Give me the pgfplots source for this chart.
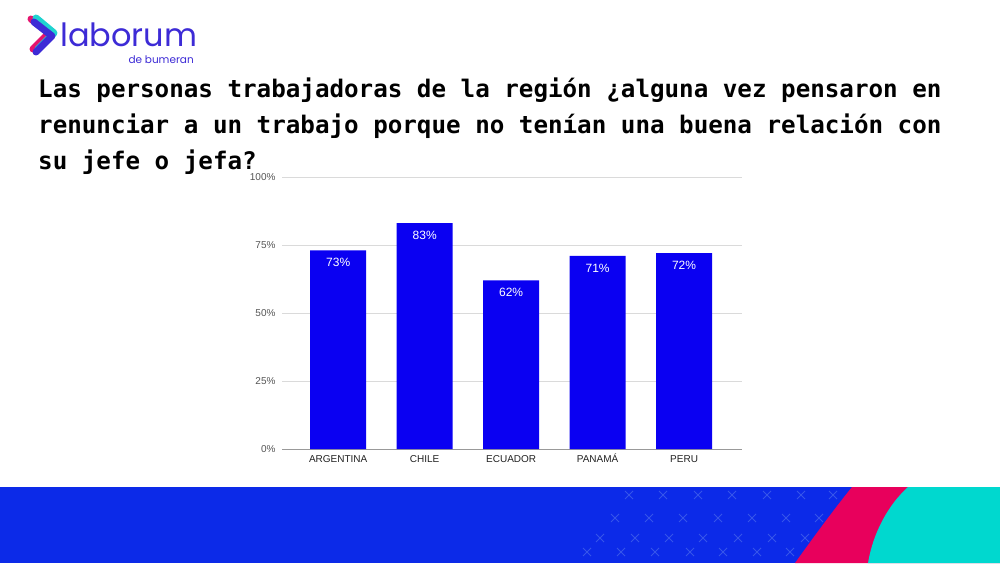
\documentclass[border=0pt]{standalone}
\usepackage{fontspec}
\setmainfont{Liberation Sans}
\newfontfamily\titlefont{DejaVu Sans Mono}
\newfontfamily\logofont{Poppins}
\usepackage{pgfplots}
\pgfplotsset{compat=1.18}
\definecolor{barblue}{HTML}{0A00F2}
\definecolor{bandblue}{HTML}{0C2AE8}
\definecolor{bandpink}{HTML}{E8005C}
\definecolor{bandcyan}{HTML}{00D8CF}
\definecolor{xmark}{HTML}{3655EA}
\definecolor{logoblue}{HTML}{3D2BD6}
\definecolor{logopink}{HTML}{E5146E}
\definecolor{logocyan}{HTML}{1FD3D0}
\definecolor{gridgray}{HTML}{DADADA}
\definecolor{ticktext}{HTML}{555555}
\definecolor{cattext}{HTML}{222222}
\begin{document}
\begin{tikzpicture}[x=1pt,y=1pt]
\path[use as bounding box] (0,0) rectangle (1000,563);
\fill[white] (0,0) rectangle (1000,563);
% bottom band
\fill[bandblue] (0,0) rectangle (1000,76);
\fill[bandpink] (852,76) -- (1000,76) -- (1000,0) -- (795,0) .. controls (815,28) and (835,55) .. (852,76) -- cycle;
\fill[bandcyan] (908,76) -- (1000,76) -- (1000,0) -- (868,0) .. controls (873,30) and (888,58) .. (908,76) -- cycle;
\foreach \y/\xs in {68/{629,663,698,732,767,801,833},45/{615,649,683,718,752,786,819},25/{600,635,669,703,738,772,805},11/{587,621,655,690,723,757,790}}{
  \foreach \x in \xs {
    \draw[xmark, line width=1pt] (\x-4,\y-4) -- (\x+4,\y+4) (\x-4,\y+4) -- (\x+4,\y-4);
  }
}
% logo
\draw[logopink, line width=7pt, line cap=round, line join=round] (31,544) -- (49,530) -- (33,514);
\draw[logocyan, line width=7pt, line cap=round, line join=round] (36,545) -- (54,530) -- (38,514);
\draw[logoblue, line width=7pt, line cap=round, line join=round] (34,541) -- (52,527) -- (36,511);
\node[anchor=base west, inner sep=0, text=logoblue, font=\logofont\fontsize{32}{36}\selectfont] at (60,516) {laborum};
\node[anchor=base east, inner sep=0, text=logoblue, font=\logofont\fontsize{10.5}{12}\selectfont] at (194,499) {de bumeran};
% title
\node[anchor=base west, inner sep=0, font=\titlefont\bfseries\fontsize{24.2}{30}\selectfont] at (38,465) {Las personas trabajadoras de la región ¿alguna vez pensaron en};
\node[anchor=base west, inner sep=0, font=\titlefont\bfseries\fontsize{24.2}{30}\selectfont] at (38,429) {renunciar a un trabajo porque no tenían una buena relación con};
\node[anchor=base west, inner sep=0, font=\titlefont\bfseries\fontsize{24.2}{30}\selectfont] at (38,393) {su jefe o jefa?};
% chart
\begin{axis}[
  at={(282pt,114pt)}, anchor=south west,
  width=460pt, height=272pt, scale only axis,
  xmin=-0.65, xmax=4.67, ymin=0, ymax=100,
  ybar, bar width=56pt,
  axis y line*=left,
  y axis line style={draw=none},
  axis x line*=bottom,
  x axis line style={draw=gray!80, line width=0.8pt, -},
  ymajorgrids, grid style={gridgray, line width=0.8pt},
  ytick={0,25,50,75,100},
  yticklabels={0\%,25\%,50\%,75\%,100\%},
  xtick={0,1,2,3,4},
  xticklabels={ARGENTINA,CHILE,ECUADOR,PANAMÁ,PERU},
  major tick length=0pt,
  tick style={draw=none},
  /pgf/number format/assume math mode=true,
  yticklabel style={font=\fontsize{10}{11}\selectfont, text=ticktext, xshift=-3pt},
  xticklabel style={font=\fontsize{10}{11}\selectfont, text=cattext, anchor=north, text height=7.5pt, text depth=0pt, yshift=-2pt},
  nodes near coords={\pgfmathprintnumber{\pgfplotspointmeta}\%},
  every node near coord/.append style={anchor=center, yshift=-12pt, text=white, font=\fontsize{12}{13}\selectfont},
  clip=false,
]
\addplot[fill=barblue, draw=none] coordinates {(0,73) (1,83) (2,62) (3,71) (4,72)};
\end{axis}
\end{tikzpicture}
\end{document}
